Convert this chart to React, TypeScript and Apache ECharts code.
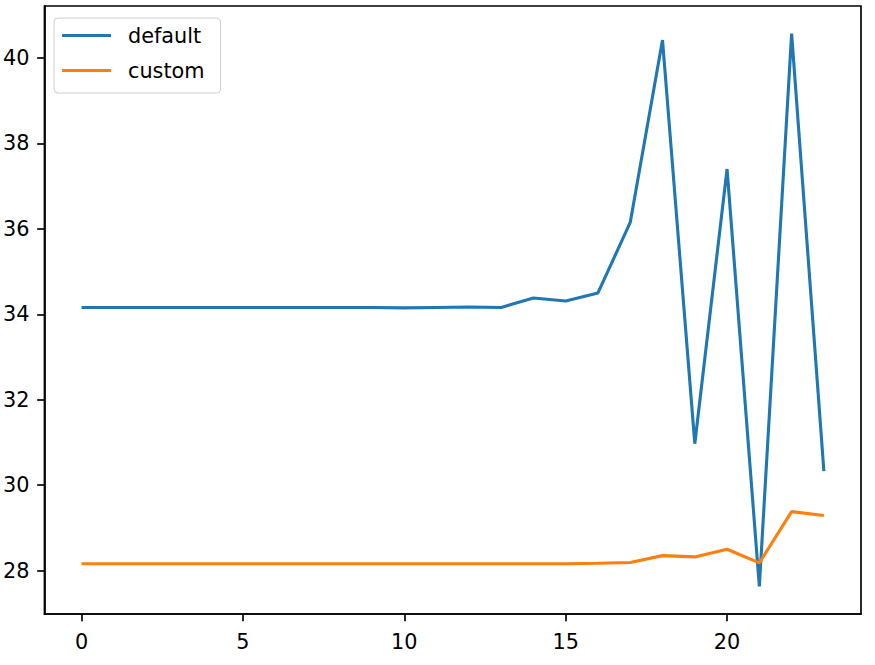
import React, { useEffect, useRef } from "react";
import * as echarts from "echarts";

const xValues = [0,1,2,3,4,5,6,7,8,9,10,11,12,13,14,15,16,17,18,19,20,21,22,23];
const defaultValues = [34.16,34.16,34.16,34.16,34.16,34.16,34.16,34.16,34.16,34.16,34.15,34.16,34.17,34.16,34.38,34.31,34.50,36.15,40.42,30.97,37.40,27.63,40.57,30.33];
const customValues = [28.16,28.16,28.16,28.16,28.16,28.16,28.16,28.16,28.16,28.16,28.16,28.16,28.16,28.16,28.16,28.16,28.17,28.19,28.35,28.32,28.50,28.18,29.38,29.29];
const xTicks = [0, 5, 10, 15, 20];
const yTicks = [28, 30, 32, 34, 36, 38, 40];
const seriesNames = ["default", "custom"];

export default function App() {
  const ref = useRef<HTMLDivElement>(null);
  useEffect(() => {
    if (!ref.current) return;
    const chart = echarts.init(ref.current, null, { renderer: "svg" });
    const font = "DejaVu Sans";
    const fs = 20.8;
    const allY = [...defaultValues, ...customValues];
    const yMinD = Math.min(...allY), yMaxD = Math.max(...allY);
    const yPad = (yMaxD - yMinD) * 0.05;
    const xMinD = Math.min(...xValues), xMaxD = Math.max(...xValues);
    const xPad = (xMaxD - xMinD) * 0.05;
    const axisCommon = {
      axisLine: { show: true, onZero: false, lineStyle: { color: "#000", width: 1.67 } },
      splitLine: { show: false },
    };
    chart.setOption({
      animation: false,
      backgroundColor: "#fff",
      textStyle: { fontFamily: font },
      grid: { left: 42, top: 6, right: 14, bottom: 51, show: true, borderColor: "#000", borderWidth: 1.67, containLabel: false },
      legend: {
        orient: "vertical",
        left: 54,
        top: 18,
        icon: "rect",
        itemWidth: 49,
        itemHeight: 3,
        itemGap: 14,
        padding: [7, 16, 12, 8],
        borderColor: "#d0d0d0",
        borderWidth: 1,
        borderRadius: 4,
        backgroundColor: "rgba(255,255,255,0.8)",
        textStyle: { fontFamily: font, fontSize: fs, color: "#000", lineHeight: 21, padding: [0, 0, 0, 12] },
        data: seriesNames,
      },
      xAxis: {
        type: "value",
        min: xMinD - xPad,
        max: xMaxD + xPad,
        ...axisCommon,
        axisTick: { show: true, length: 7.3, lineStyle: { color: "#000", width: 1.67 }, customValues: xTicks },
        axisLabel: { show: true, margin: 17, fontFamily: font, fontSize: fs, color: "#000", customValues: xTicks },
      },
      yAxis: {
        type: "value",
        min: yMinD - yPad,
        max: yMaxD + yPad,
        ...axisCommon,
        axisTick: { show: true, length: 7.3, lineStyle: { color: "#000", width: 1.67 }, customValues: yTicks },
        axisLabel: { show: true, margin: 15, fontFamily: font, fontSize: fs, color: "#000", customValues: yTicks },
      },
      series: [
        {
          name: seriesNames[0],
          type: "line",
          symbol: "none",
          color: "#1f77b4",
          lineStyle: { width: 3.1, color: "#1f77b4" },
          data: xValues.map((x, i) => [x, defaultValues[i]]),
        },
        {
          name: seriesNames[1],
          type: "line",
          symbol: "none",
          color: "#ff7f0e",
          lineStyle: { width: 3.1, color: "#ff7f0e" },
          data: xValues.map((x, i) => [x, customValues[i]]),
        },
      ],
    });
    return () => chart.dispose();
  }, []);
  return <div ref={ref} style={{ position: "absolute", left: 0, top: 0, width: 875, height: 665 }} />;
}
